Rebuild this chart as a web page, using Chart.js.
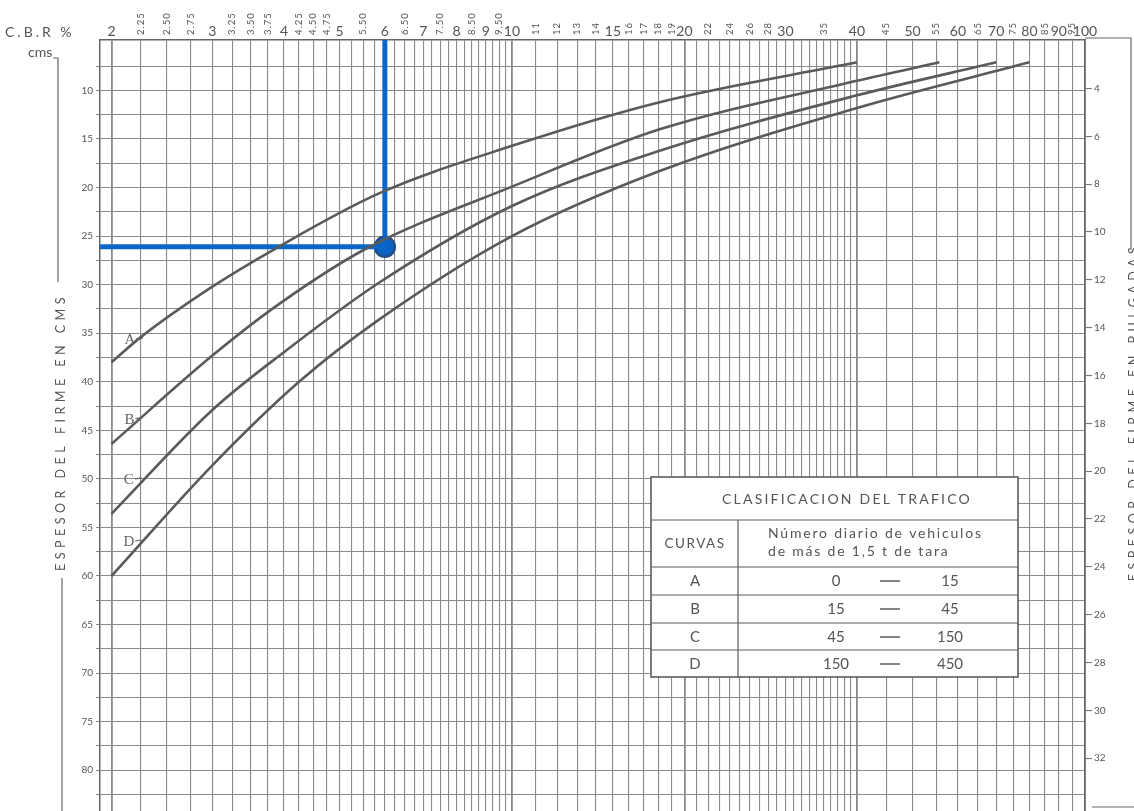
<!DOCTYPE html>
<html><head><meta charset="utf-8">
<script src="https://cdn.jsdelivr.net/npm/chart.js@4.4.1/dist/chart.umd.min.js"></script>
<style>html,body{margin:0;padding:0;background:#fff;overflow:hidden}canvas{display:block}</style>
</head><body>
<canvas id="c" width="1134" height="811"></canvas>
<script>
// ---- data (CBR %, thickness in cm) ----
const cbrA=[2,2.25,3,3.86,5.86,10,18.1,40];
const cmA =[38,35.4,30.2,26.3,20.6,15.7,11.2,7.1];
const cbrB=[2,3,3.92,5.56,10,18.1,40,55.7];
const cmB =[46.4,37.3,32.0,26.3,19.9,14.0,9,7.1];
const cbrC=[2,3,4.03,5.86,10,18.1,40,70];
const cmC =[53.6,42.9,36.8,29.8,21.9,16.2,10.5,7.1];
const cbrD=[2,3,4.25,5.86,10,18.1,40,80];
const cmD =[60,48.6,40,33.6,25,18.3,11.8,7.1];
const curveNames=['A','B','C','D'];
const curveLabelCbr=[2.155,2.15,2.145,2.145];
const curveLabelCm=[35.7,43.9,50.1,56.5];
// highlighted reading
const readCbr=[6];
const readCm=[26.1];
// axes
const cbrGrid=[2,2.25,2.5,2.75,3,3.25,3.5,3.75,4,4.25,4.5,4.75,5,5.25,5.5,5.75,6,6.25,6.5,6.75,7,7.25,7.5,7.75,8,8.25,8.5,8.75,9,9.25,9.5,9.75,10,
 11,12,13,14,15,16,17,18,19,20,21,22,23,24,25,26,27,28,29,30,31,32,33,34,35,36,37,38,39,40,
 45,50,55,60,65,70,75,80,85,90,95,100];
const topMajor=[2,3,4,5,6,7,8,9,10,15,20,30,40,50,60,70,80,90,100];
const topMinor=['2.25','2.50','2.75','3.25','3.50','3.75','4.25','4.50','4.75','5.50','6.50','7.50','8.50','9.50','11','12','13','14','16','17','18','19','22','24','26','28','35','45','55','65','75','85','95'];
const cmGrid=[7.5,10,12.5,15,17.5,20,22.5,25,27.5,30,32.5,35,37.5,40,42.5,45,47.5,50,52.5,55,57.5,60,62.5,65,67.5,70,72.5,75,77.5,80,82.5];
const cmLabels=[10,15,20,25,30,35,40,45,50,55,60,65,70,75,80];
const inchTicks=[4,6,8,10,12,14,16,18,20,22,24,26,28,30,32];
// table
const tableTitle='CLASIFICACION DEL TRAFICO';
const tableHead1='CURVAS';
const tableHead2=['Número diario de vehiculos','de más de 1,5 t de tara'];
const trafficFrom=['0','15','45','150'];
const trafficTo=['15','45','150','450'];

const FONT='Lato, "DejaVu Sans", sans-serif';
Chart.defaults.font.family=FONT;
const INK='#555';
const pts=(xs,ys)=>xs.map((v,i)=>({x:v,y:ys[i]}));

function spaced(ctx,txt,x,y,sp){ctx.letterSpacing=sp+'px';ctx.fillText(txt,x,y);ctx.letterSpacing='0px';}

const decor={
 id:'decor',
 afterDraw(chart){
  const {ctx,chartArea:ca,scales:{x,y}}=chart;
  ctx.save();
  ctx.fillStyle=INK; ctx.strokeStyle='#666';
  // top major labels
  ctx.font='14px '+FONT; ctx.textAlign='center'; ctx.textBaseline='alphabetic';
  topMajor.forEach(v=>ctx.fillText(String(v),x.getPixelForValue(v),ca.top-4));
  // top minor rotated labels
  ctx.font='9.5px '+FONT;
  topMinor.forEach(s=>{const px=x.getPixelForValue(parseFloat(s));ctx.save();ctx.translate(px,ca.top-5);ctx.rotate(-Math.PI/2);ctx.textAlign='left';ctx.textBaseline='middle';spaced(ctx,s,0,0,1);ctx.restore();});
  // corner labels
  ctx.font='14px '+FONT; ctx.textAlign='left';
  spaced(ctx,'C.B.R %',5,37,3);
  ctx.fillText('cms',28,57);
  ctx.lineWidth=1.2;
  ctx.beginPath();ctx.moveTo(53,58);ctx.lineTo(58,58);ctx.lineTo(58,282);ctx.stroke();
  ctx.beginPath();ctx.moveTo(62,578);ctx.lineTo(62,811);ctx.stroke();
  // left axis title
  ctx.font='12.5px '+FONT;
  ctx.save();ctx.translate(61,432);ctx.rotate(-Math.PI/2);ctx.textAlign='center';ctx.textBaseline='middle';spaced(ctx,'ESPESOR DEL FIRME EN CMS',0,0,4.5);ctx.restore();
  // right axis title (partly outside)
  ctx.save();ctx.translate(1134,412);ctx.rotate(-Math.PI/2);ctx.textAlign='center';ctx.textBaseline='middle';spaced(ctx,'ESPESOR DEL FIRME EN PULGADAS',0,0,4.5);ctx.restore();
  ctx.beginPath();ctx.moveTo(ca.right,38);ctx.lineTo(1131,38);ctx.lineTo(1131,250);ctx.stroke();
  ctx.beginPath();ctx.moveTo(1092,807);ctx.lineTo(1134,807);ctx.stroke();
  // curve labels with leaders
  ctx.font='15px "Liberation Serif", "DejaVu Serif", serif'; ctx.textAlign='center'; ctx.textBaseline='middle'; ctx.fillStyle='#666';
  curveNames.forEach((n,i)=>{const px=x.getPixelForValue(curveLabelCbr[i]),py=y.getPixelForValue(curveLabelCm[i]);ctx.fillText(n,px,py);ctx.beginPath();ctx.moveTo(px+6,py-1);ctx.lineTo(px+13,py-2);ctx.lineWidth=1.2;ctx.stroke();});
  // table
  const L=651,R=1018,T=477,B=677,C=738,rows=[520,567,595,623,650];
  ctx.fillStyle='#fff';ctx.fillRect(L,T,R-L,B-T);
  ctx.strokeStyle='#5c5c5c';ctx.lineWidth=1.6;ctx.strokeRect(L,T,R-L,B-T);
  ctx.lineWidth=1.2;
  rows.forEach(r=>{ctx.beginPath();ctx.moveTo(L,r);ctx.lineTo(R,r);ctx.stroke();});
  ctx.beginPath();ctx.moveTo(C,rows[0]);ctx.lineTo(C,B);ctx.stroke();
  ctx.fillStyle=INK;ctx.textBaseline='middle';ctx.textAlign='center';
  ctx.font='14px '+FONT; spaced(ctx,tableTitle,847,499,2.2);
  ctx.font='13.5px '+FONT; spaced(ctx,tableHead1,695,544,1.5);
  ctx.textAlign='left'; ctx.font='14px '+FONT;
  spaced(ctx,tableHead2[0],768,533,1.8); spaced(ctx,tableHead2[1],768,551,1.8);
  ctx.textAlign='center'; ctx.font='15px '+FONT;
  const rc=[581,609,637,664];
  curveNames.forEach((n,i)=>{ctx.fillText(n,695,rc[i]);ctx.fillText(trafficFrom[i],836,rc[i]);ctx.fillText(trafficTo[i],950,rc[i]);
    ctx.beginPath();ctx.moveTo(880,rc[i]);ctx.lineTo(900,rc[i]);ctx.lineWidth=1.5;ctx.stroke();});
  ctx.restore();
 }
};

const noPad=s=>{s.paddingTop=0;s.paddingBottom=0;s.paddingLeft=0;s.paddingRight=0;};
const curveStyle={showLine:true,pointRadius:0,borderColor:'#5a5a5a',borderWidth:2.6,cubicInterpolationMode:'monotone',fill:false};
new Chart(document.getElementById('c'),{
 type:'scatter',
 data:{datasets:[
  Object.assign({label:'A',data:pts(cbrA,cmA)},curveStyle),
  Object.assign({label:'B',data:pts(cbrB,cmB)},curveStyle),
  Object.assign({label:'C',data:pts(cbrC,cmC)},curveStyle),
  Object.assign({label:'D',data:pts(cbrD,cmD)},curveStyle),
  {label:'lectura',data:[{x:readCbr[0],y:4.8},{x:readCbr[0],y:readCm[0]},{x:1.91,y:readCm[0]}],showLine:true,borderColor:'#0a66c8',borderWidth:5,pointRadius:0,tension:0},
  {label:'punto',data:pts(readCbr,readCm),pointRadius:10,pointBackgroundColor:'#0d63c4',pointBorderColor:'#234f86',pointBorderWidth:2.5}
 ]},
 options:{
  responsive:false,animation:false,
  layout:{autoPadding:false,padding:{top:40,left:0,right:0,bottom:0}},
  plugins:{legend:{display:false},tooltip:{enabled:false}},
  scales:{
   x:{type:'logarithmic',position:'top',min:1.91,max:100,
      afterBuildTicks:s=>{s.ticks=cbrGrid.map(v=>({value:v}));},
      afterFit:s=>{s.height=0;noPad(s);},
      ticks:{display:false},
      grid:{drawTicks:false,color:'#8a8a8a',lineWidth:c=>(c.tick&&[2,10,20,40,100].includes(c.tick.value))?1.8:1.1},
      border:{color:'#666',width:1.5}},
   y:{type:'linear',position:'left',reverse:true,min:4.8,max:84.2,
      afterBuildTicks:s=>{s.ticks=cmGrid.map(v=>({value:v}));},
      afterFit:s=>{s.width=100;noPad(s);},
      ticks:{autoSkip:false,color:INK,font:{size:10},padding:3,callback:v=>cmLabels.includes(v)?String(v):''},
      grid:{color:'#8a8a8a',lineWidth:1.1,tickLength:4},
      border:{color:'#666',width:1.5}},
   y2:{type:'linear',position:'right',reverse:true,min:1.97,max:34.21,
      afterBuildTicks:s=>{s.ticks=inchTicks.map(v=>({value:v}));},
      afterFit:s=>{s.width=49;noPad(s);},
      ticks:{autoSkip:false,color:INK,font:{size:10},padding:2},
      grid:{drawOnChartArea:false,tickLength:7,color:'#777',lineWidth:1.1},
      border:{color:'#666',width:1.5}}
  }
 },
 plugins:[decor]
});
</script>
</body></html>
